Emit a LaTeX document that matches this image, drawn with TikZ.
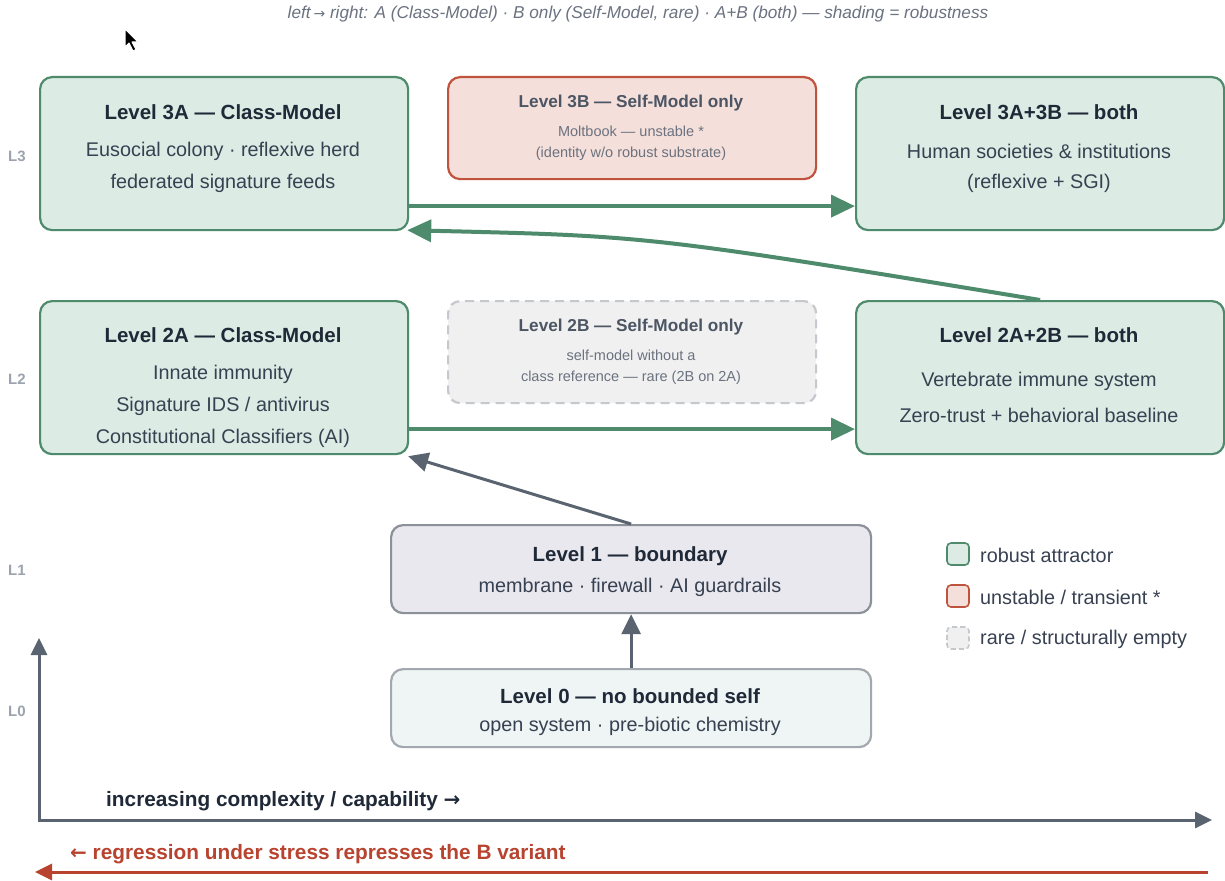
\documentclass[tikz,border=0pt]{standalone}
\usepackage{fontspec}
\setmainfont{Liberation Sans}
\usetikzlibrary{arrows.meta}
\definecolor{grnline}{HTML}{4E8A6C}
\definecolor{grnfill}{HTML}{DCEBE4}
\definecolor{redline}{HTML}{C0533D}
\definecolor{redfill}{HTML}{F5DFDA}
\definecolor{emptyline}{HTML}{C5C8CC}
\definecolor{emptyfill}{HTML}{F0F0F0}
\definecolor{bndfill}{HTML}{E9E8EE}
\definecolor{bndline}{HTML}{8C9099}
\definecolor{zerofill}{HTML}{EEF5F4}
\definecolor{zeroline}{HTML}{A3A8AE}
\definecolor{inkdark}{HTML}{1F2937}
\definecolor{inkbody}{HTML}{374151}
\definecolor{inkmute}{HTML}{4B5563}
\definecolor{inksoft}{HTML}{6B7280}
\definecolor{axisgray}{HTML}{5A6470}
\definecolor{levelgray}{HTML}{9CA3AF}
\definecolor{regred}{HTML}{B8432F}
\newcommand{\fs}[1]{\fontsize{#1}{#1}\selectfont}
\tikzset{
  box/.style={rectangle, rounded corners=12pt, line width=2.2pt, anchor=north west, inner sep=0pt},
  greenbox/.style={box, draw=grnline, fill=grnfill},
  redbox/.style={box, draw=redline, fill=redfill},
  emptybox/.style={box, draw=emptyline, fill=emptyfill, dash pattern=on 9pt off 6pt},
  bndbox/.style={box, draw=bndline, fill=bndfill},
  zerobox/.style={box, draw=zeroline, fill=zerofill},
  title/.style={font=\fs{20.5}\bfseries, text=inkdark, inner sep=0pt},
  body/.style={font=\fs{19.8}, text=inkbody, inner sep=0pt},
  mtitle/.style={font=\fs{17.2}\bfseries, text=inkmute, inner sep=0pt},
  mbody/.style={font=\fs{14.5}, text=inksoft, inner sep=0pt},
  lvl/.style={font=\fs{15}\bfseries, text=levelgray, inner sep=0pt},
  legtext/.style={font=\fs{19.8}, text=inkbody, inner sep=0pt, anchor=west},
  legsq/.style={rectangle, rounded corners=4pt, line width=1.6pt, minimum size=22pt, inner sep=0pt},
  garrow/.style={draw=grnline, line width=4pt, -{Triangle[length=24pt,width=22pt]}},
  karrow/.style={draw=axisgray, line width=3pt, -{Triangle[length=20pt,width=19pt]}},
}
\begin{document}
\begin{tikzpicture}[x=1pt, y=-1pt]
\useasboundingbox[fill=white] (0,0) rectangle (1225,880);

% caption
\node[font=\fs{17.2}\itshape, text=inksoft, inner sep=0pt] (cap) at (638,14)
  {left\,{\fontspec{DejaVu Sans}\fs{14}→} right: A (Class-Model) · B only (Self-Model, rare) · A+B (both) — shading = robustness};

% pointer
\draw[fill=black, draw=white, line width=1pt, line join=round] (125,29) -- ++(0,18) -- ++(4,-4) -- ++(4,8) -- ++(3,-1.5) -- ++(-4,-7.5) -- ++(6,0) -- cycle;

% level labels
\node[lvl] (l3) at (17,156) {L3};
\node[lvl] (l2) at (17,379) {L2};
\node[lvl] (l1) at (17,570) {L1};
\node[lvl] (l0) at (17,711) {L0};

% level 3
\node[greenbox, minimum width=368pt, minimum height=153pt] (b3a) at (39,76) {};
\node[title] (t3a) at (223,112) {Level 3A — Class-Model};
\node[body] (t3a1) at (223,151) {Eusocial colony · reflexive herd};
\node[body] (t3a2) at (223,183) {federated signature feeds};

\node[redbox, minimum width=368pt, minimum height=102pt] (b3b) at (447,76) {};
\node[mtitle] (t3b) at (631,103) {Level 3B — Self-Model only};
\node[mbody] (t3b1) at (631,131) {Moltbook — unstable *};
\node[mbody] (t3b2) at (631,154) {(identity w/o robust substrate)};

\node[greenbox, minimum width=368pt, minimum height=153pt] (b3ab) at (855,76) {};
\node[title] (t3ab) at (1039,112) {Level 3A+3B — both};
\node[body] (t3ab1) at (1039,151) {Human societies \& institutions};
\node[body] (t3ab2) at (1039,183) {(reflexive + SGI)};

% level 2
\node[greenbox, minimum width=368pt, minimum height=153pt] (b2a) at (39,300) {};
\node[title] (t2a) at (223,335) {Level 2A — Class-Model};
\node[body] (t2a1) at (223,374) {Innate immunity};
\node[body] (t2a2) at (223,406) {Signature IDS / antivirus};
\node[body] (t2a3) at (223,438) {Constitutional Classifiers (AI)};

\node[emptybox, minimum width=368pt, minimum height=102pt] (b2b) at (447,300) {};
\node[mtitle] (t2b) at (631,327) {Level 2B — Self-Model only};
\node[mbody] (t2b1) at (631,355) {self-model without a};
\node[mbody] (t2b2) at (631,378) {class reference — rare (2B on 2A)};

\node[greenbox, minimum width=368pt, minimum height=153pt] (b2ab) at (855,300) {};
\node[title] (t2ab) at (1039,335) {Level 2A+2B — both};
\node[body] (t2ab1) at (1039,381) {Vertebrate immune system};
\node[body] (t2ab2) at (1039,415) {Zero-trust + behavioral baseline};

% level 1 and level 0
\node[bndbox, minimum width=480pt, minimum height=88pt] (b1) at (390,524) {};
\node[title] (t1) at (630,556) {Level 1 — boundary};
\node[body] (t11) at (630,587) {membrane · firewall · AI guardrails};

\node[zerobox, minimum width=480pt, minimum height=78pt] (b0) at (390,668) {};
\node[title] (t0) at (630,696) {Level 0 — no bounded self};
\node[body] (t01) at (630,726) {open system · pre-biotic chemistry};

% transitions
\draw[garrow] ([yshift=-52.5pt]b3a.east) -- ([yshift=-52.5pt]b3ab.west);
\draw[garrow] ([yshift=-51.5pt]b2a.east) -- ([yshift=-51.5pt]b2ab.west);
\draw[garrow] (b2ab.north) .. controls (650,236) .. ([xshift=-2pt,yshift=1pt]b3a.south east);
\draw[karrow] (b1.north) -- ([xshift=-1pt,yshift=-1pt]b2a.south east);
\draw[karrow] (b0.north) -- (b1.south);

% legend
\node[legsq, draw=grnline, fill=grnfill] (lg1) at (958,554) {};
\node[legtext] (lt1) at (980,555) {robust attractor};
\node[legsq, draw=redline, fill=redfill] (lg2) at (958,596) {};
\node[legtext] (lt2) at (980,597) {unstable / transient *};
\node[legsq, draw=emptyline, fill=emptyfill, dash pattern=on 5pt off 3pt] (lg3) at (958,638) {};
\node[legtext] (lt3) at (980,639) {rare / structurally empty};

% axes
\coordinate (origin) at (39,820);
\coordinate (ytop) at (39,638);
\coordinate (xend) at (1212,820);
\draw[draw=axisgray, line width=3pt, -{Triangle[length=17pt,width=16pt]}] (origin) -- (ytop);
\draw[draw=axisgray, line width=3pt, -{Triangle[length=17pt,width=16pt]}] ([xshift=-1.5pt]origin) -- (xend);
\node[font=\fs{20.8}\bfseries, text=inkdark, inner sep=0pt, anchor=west] (xlab) at (106,801)
  {increasing complexity / capability {\fontspec{DejaVu Sans}\fs{20}→}};

% regression
\node[font=\fs{20.8}\bfseries, text=regred, inner sep=0pt, anchor=west] (reg) at (70,854)
  {{\fontspec{DejaVu Sans}\fs{20}←} regression under stress represses the B variant};
\coordinate (regR) at (1208,872);
\coordinate (regL) at (35,872);
\draw[draw=regred, line width=3pt, -{Triangle[length=17pt,width=16pt]}] (regR) -- (regL);
\end{tikzpicture}
\end{document}
